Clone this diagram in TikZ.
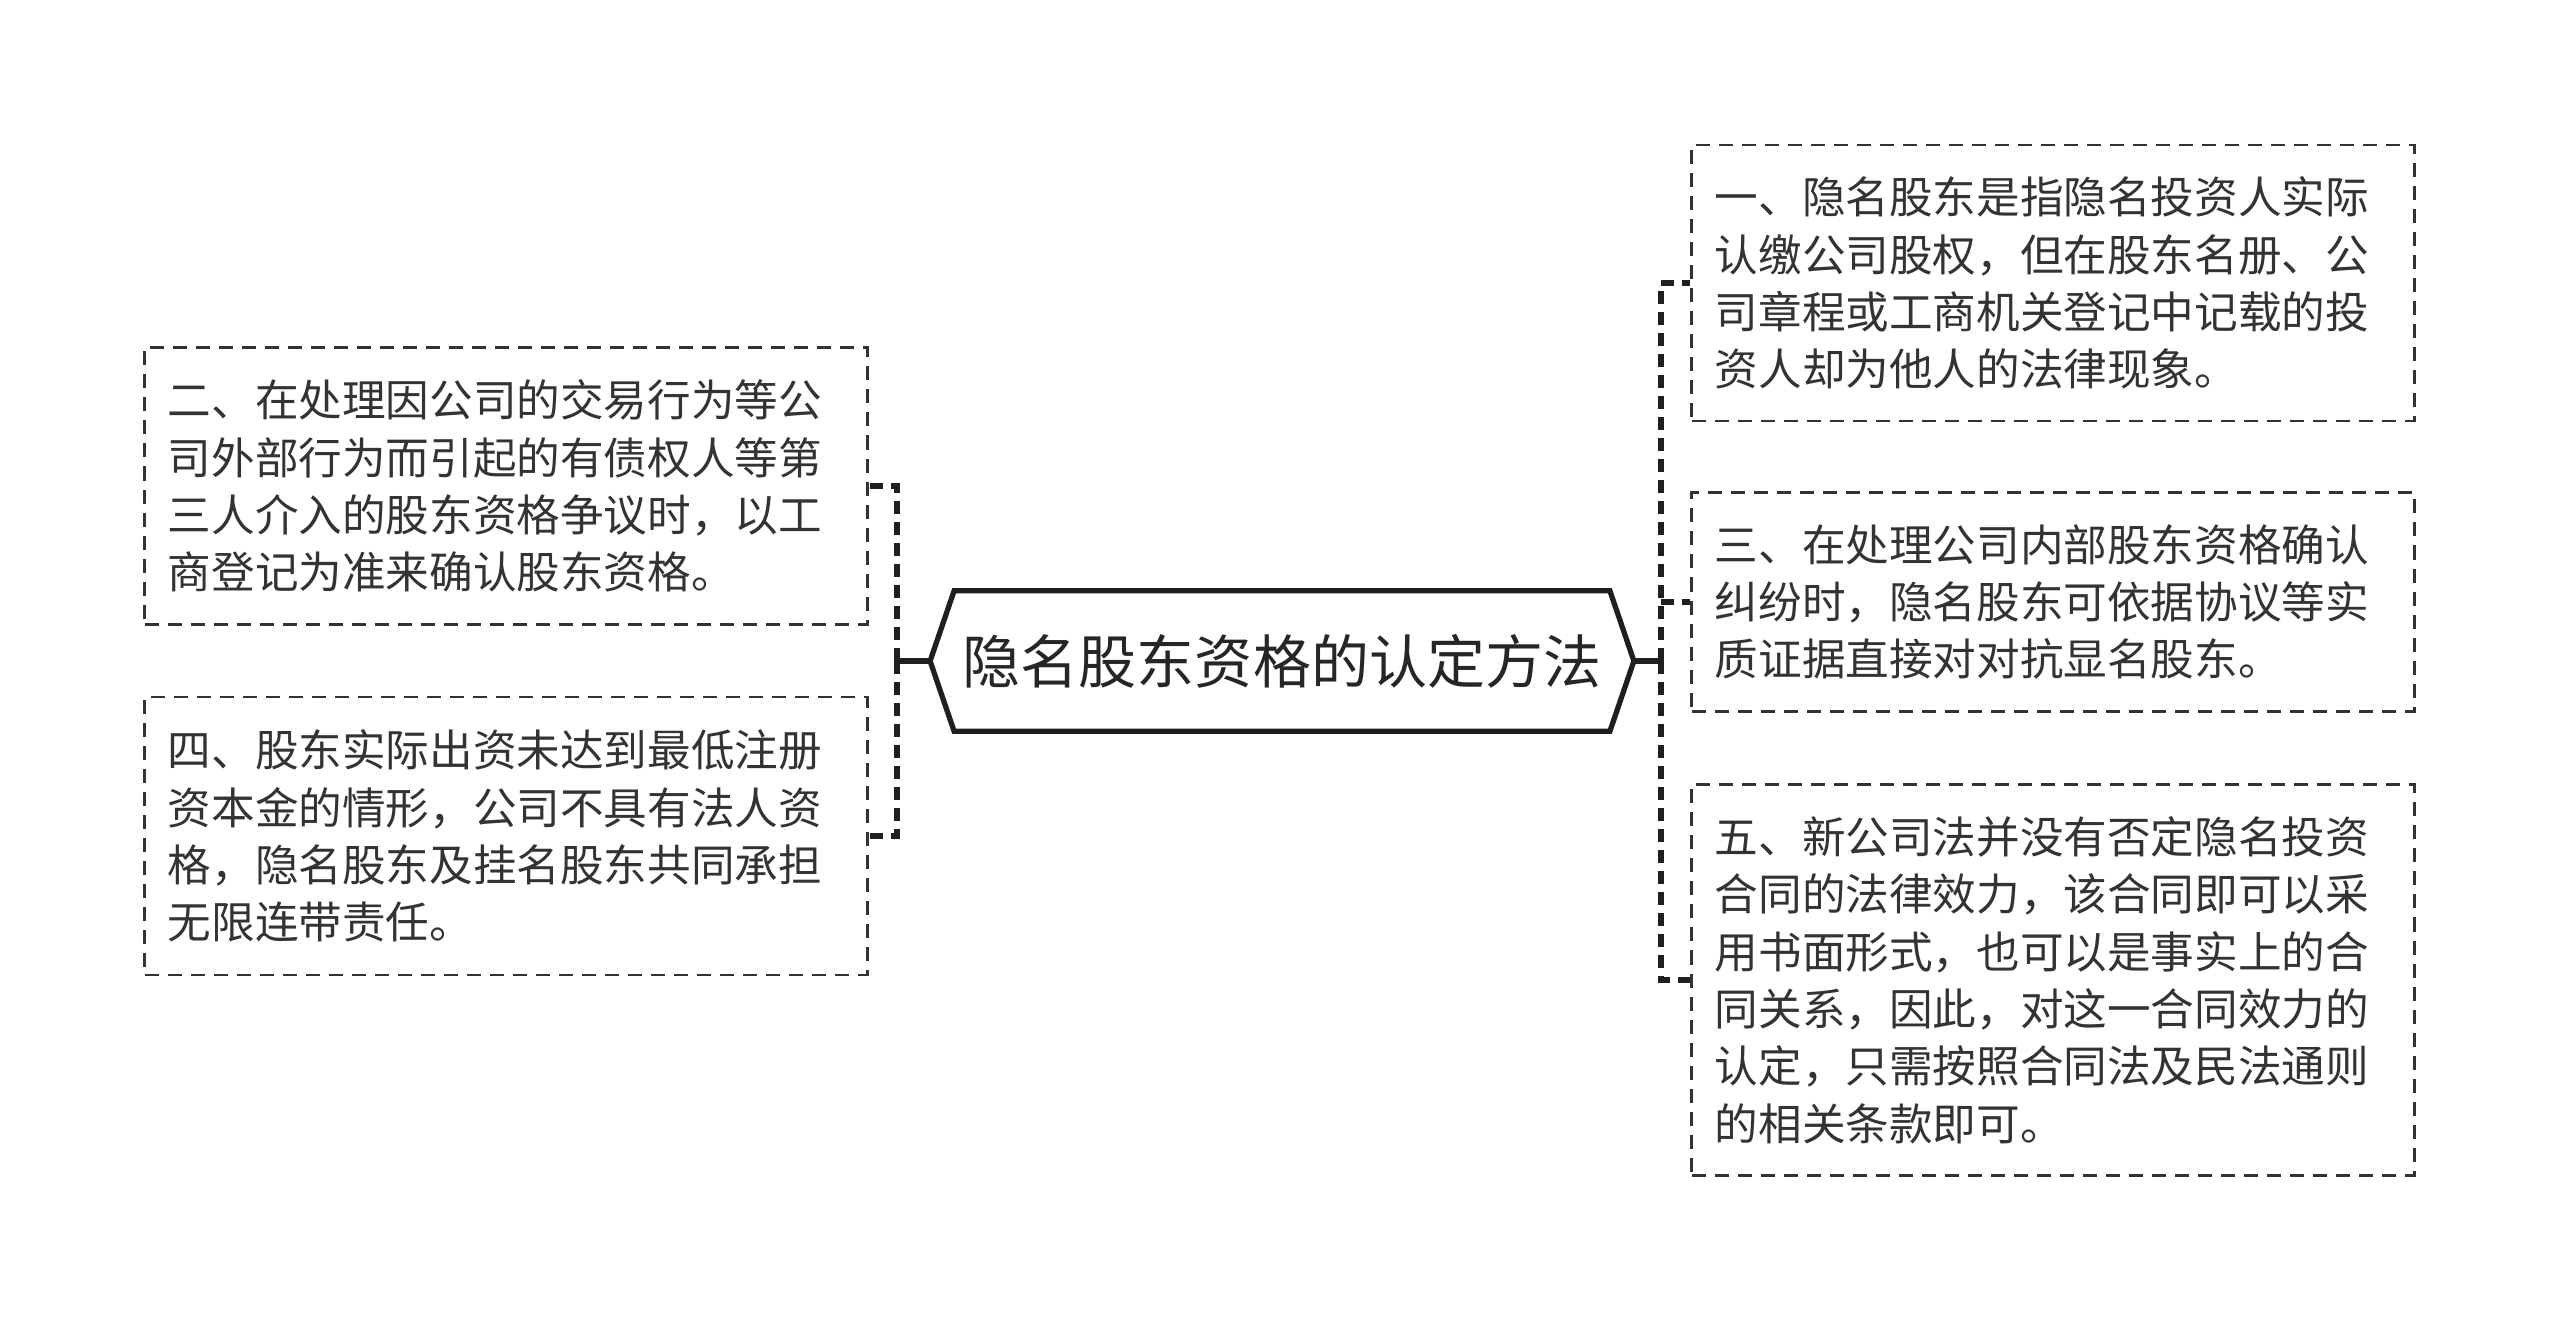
\documentclass[tikz,border=0pt]{standalone}
\usepackage{fontspec}
\setmainfont{Noto Sans CJK SC}
\usetikzlibrary{calc}
\definecolor{inkgray}{HTML}{333333}

\begin{document}
\begin{tikzpicture}[
  x=0.01cm, y=-0.01cm,
  ibox/.style={draw=inkgray, line width=0.75pt, dash pattern=on 1.4mm off 0.9mm,
    text=inkgray, align=left, text width=6.76cm, inner xsep=2.3mm, inner ysep=0pt,
    minimum width=7.22cm, font=\fontsize{12.4}{16.3}\selectfont},
  rootbox/.style={minimum width=6.54cm, minimum height=1.39cm, inner sep=0pt,
    text=black!85, font=\fontsize{16.5}{20}\selectfont},
  rline/.style={line width=1.5pt, draw=black!88},
  bline/.style={line width=1.5pt, draw=black!88, dash pattern=on 1.3mm off 0.8mm},
]
  \useasboundingbox (0,0) rectangle (2560,1323);

  % Central topic
  \node[rootbox] (root) at (1282,661) {隐名股东资格的认定方法};
  \coordinate (rootW) at ($(root.west)+(-24,0)$);
  \coordinate (rootE) at ($(root.east)+(24,0)$);
  \draw[rline] (root.north west) -- (root.north east) -- (rootE)
    -- (root.south east) -- (root.south west) -- (rootW) -- cycle;

  % Left branches
  \node[ibox, minimum height=2.77cm] (b2) at (506,486) {二、在处理因公司的交易行为等公\\司外部行为而引起的有债权人等第\\三人介入的股东资格争议时，以工\\商登记为准来确认股东资格。};
  \node[ibox, minimum height=2.78cm] (b4) at (506,836) {四、股东实际出资未达到最低注册\\资本金的情形，公司不具有法人资\\格，隐名股东及挂名股东共同承担\\无限连带责任。};

  % Right branches
  \node[ibox, minimum height=2.76cm] (b1) at (2053,283) {一、隐名股东是指隐名投资人实际\\认缴公司股权，但在股东名册、公\\司章程或工商机关登记中记载的投\\资人却为他人的法律现象。};
  \node[ibox, minimum height=2.19cm] (b3) at (2053,602) {三、在处理公司内部股东资格确认\\纠纷时，隐名股东可依据协议等实\\质证据直接对对抗显名股东。};
  \node[ibox, minimum height=3.91cm] (b5) at (2053,980) {五、新公司法并没有否定隐名投资\\合同的法律效力，该合同即可以采\\用书面形式，也可以是事实上的合\\同关系，因此，对这一合同效力的\\认定，只需按照合同法及民法通则\\的相关条款即可。};

  % Connectors
  \coordinate (jl) at (897,661);
  \coordinate (jr) at (1661,661);
  \draw[rline] (rootW) -- (jl);
  \draw[bline] (jl) |- (b2.east);
  \draw[bline] (jl) |- (b4.east);
  \draw[rline] (rootE) -- (jr);
  \draw[bline] (jr) |- (b1.west);
  \draw[bline] (jr) |- (b5.west);
  \draw[bline] (jr |- b3.west) -- (b3.west);
\end{tikzpicture}
\end{document}
